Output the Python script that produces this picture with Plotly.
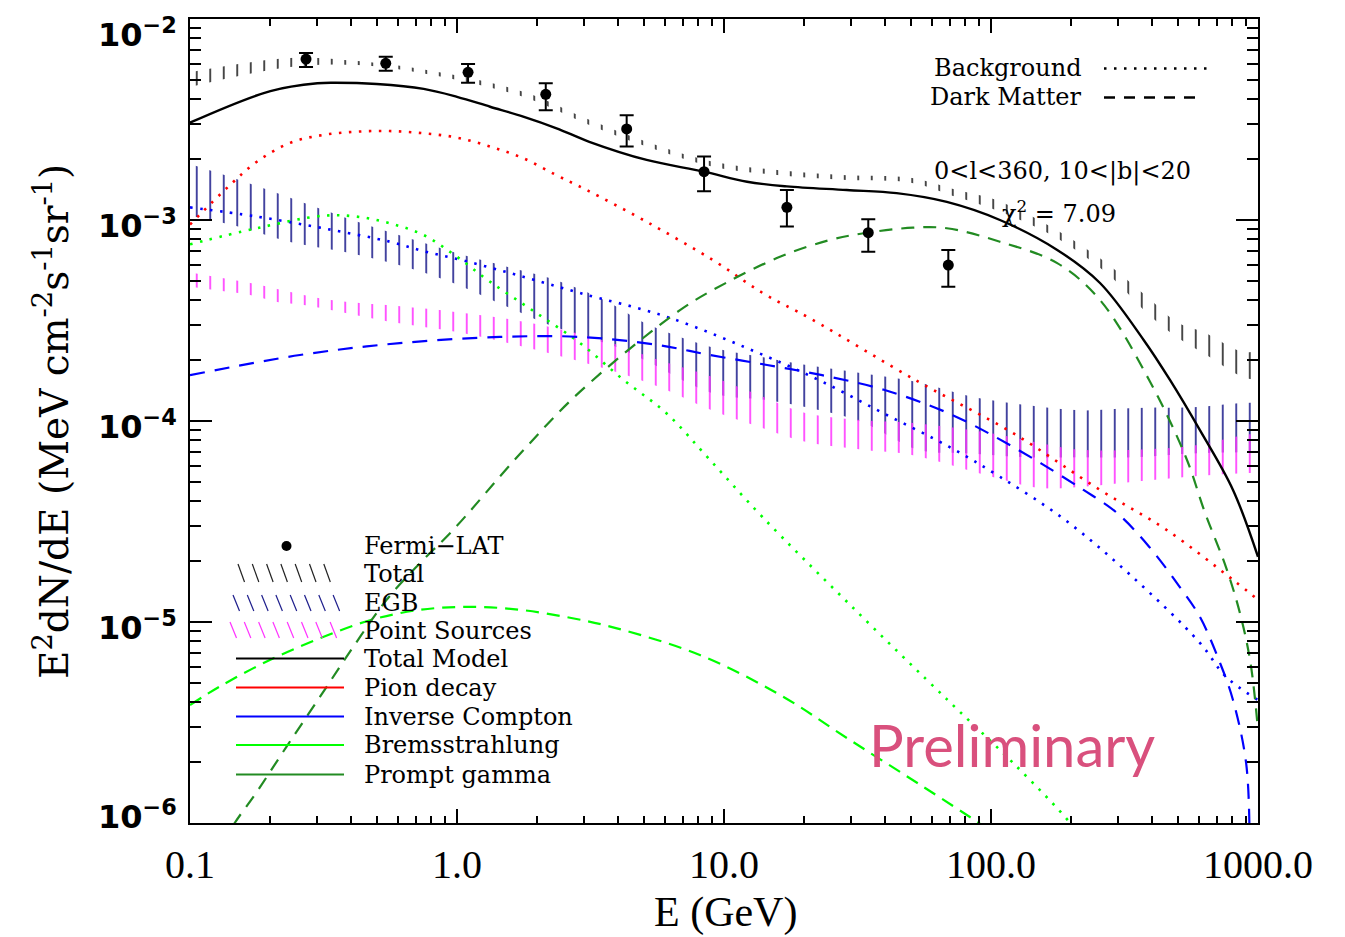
import math
import plotly.graph_objects as go

# ---------------- data (E in GeV, E^2 dN/dE in MeV cm^-2 s^-1 sr^-1) ----------------
fermi_E = [0.272, 0.541, 1.10, 2.15, 4.32, 8.42, 17.2, 34.7, 69.2]
fermi_flux = [6.32e-3, 6.02e-3, 5.43e-3, 4.22e-3, 2.84e-3, 1.74e-3, 1.156e-3, 8.65e-4, 5.97e-4]
fermi_hi = [6.77e-3, 6.49e-3, 5.97e-3, 4.79e-3, 3.32e-3, 2.07e-3, 1.41e-3, 1.01e-3, 7.1e-4]
fermi_lo = [5.77e-3, 5.53e-3, 4.82e-3, 3.52e-3, 2.32e-3, 1.39e-3, 9.27e-4, 6.95e-4, 4.66e-4]

total_band_E = [0.1, 0.237, 0.425, 0.77, 1.77, 3.13, 5.13, 9.1, 16.1, 28.8, 50.6, 74.5,
                104, 169, 271, 385, 496, 624, 883, 1000]
total_hi = [5.44e-3, 6.40e-3, 6.18e-3, 5.57e-3, 4.35e-3, 3.15e-3, 2.45e-3, 1.95e-3, 1.77e-3,
            1.67e-3, 1.62e-3, 1.41e-3, 1.26e-3, 9.2e-4, 6.1e-4, 4.14e-4, 3.11e-4, 2.77e-4,
            2.2e-4, 2.25e-4]
total_lo = [4.59e-3, 5.77e-3, 5.9e-3, 5.32e-3, 4.10e-3, 2.97e-3, 2.32e-3, 1.84e-3, 1.67e-3,
            1.58e-3, 1.53e-3, 1.30e-3, 1.12e-3, 8.4e-4, 5.45e-4, 3.44e-4, 2.62e-4, 2.18e-4,
            1.65e-4, 1.6e-4]

egb_E = [0.1, 0.149, 0.237, 0.38, 0.605, 0.967, 1.55, 2.22, 3.12, 3.98, 5.05, 9.0, 14.5,
         20.4, 32.8, 53.4, 85, 136, 215, 348, 562, 883, 1000]
egb_hi = [1.9e-3, 1.60e-3, 1.29e-3, 1.03e-3, 8.41e-4, 6.93e-4, 5.84e-4, 5.14e-4, 4.33e-4,
          3.69e-4, 3.07e-4, 2.33e-4, 2.06e-4, 1.90e-4, 1.73e-4, 1.56e-4, 1.32e-4, 1.20e-4,
          1.13e-4, 1.16e-4, 1.17e-4, 1.23e-4, 1.23e-4]
egb_lo = [1.05e-3, 9.33e-4, 7.78e-4, 6.93e-4, 5.97e-4, 4.86e-4, 3.69e-4, 3.0e-4, 2.59e-4,
          2.33e-4, 2.01e-4, 1.38e-4, 1.27e-4, 1.17e-4, 9.9e-5, 7.2e-5, 6.9e-5, 6.6e-5,
          6.6e-5, 6.6e-5, 6.9e-5, 7.0e-5, 7.0e-5]

ps_E = [0.1, 0.132, 0.168, 0.212, 0.267, 0.337, 0.6, 1.0, 1.8, 3.5, 5.7, 9.0, 14, 20, 33,
        50, 100, 150, 215, 350, 560, 880, 1000]
ps_hi = [5.5e-4, 5.14e-4, 4.86e-4, 4.54e-4, 4.24e-4, 4.0e-4, 3.73e-4, 3.48e-4, 3.11e-4,
         2.53e-4, 2.01e-4, 1.66e-4, 1.32e-4, 1.10e-4, 1.01e-4, 9.8e-5, 8.7e-5, 7.8e-5,
         7.2e-5, 7.2e-5, 7.5e-5, 8.5e-5, 8.7e-5]
ps_lo = [4.65e-4, 4.43e-4, 4.24e-4, 3.91e-4, 3.78e-4, 3.57e-4, 3.07e-4, 2.77e-4, 2.33e-4,
         1.84e-4, 1.48e-4, 1.13e-4, 9.2e-5, 7.9e-5, 7.2e-5, 6.8e-5, 5.3e-5, 4.65e-5,
         4.7e-5, 5.0e-5, 5.3e-5, 5.5e-5, 5.5e-5]

total_model_E = [0.1, 0.2, 0.3, 0.35, 0.5, 0.75, 1.0, 1.33, 1.77, 2.36, 3.13, 5.13, 8.42,
                 12.2, 17.2, 28.8, 44.3, 68.3, 108, 177, 256, 373, 468, 606, 806, 1000]
total_model = [3.05e-3, 4.38e-3, 4.79e-3, 4.82e-3, 4.75e-3, 4.49e-3, 4.10e-3, 3.66e-3,
               3.27e-3, 2.86e-3, 2.45e-3, 1.99e-3, 1.74e-3, 1.55e-3, 1.47e-3, 1.41e-3,
               1.36e-3, 1.23e-3, 1.0e-3, 7.1e-4, 4.86e-4, 2.53e-4, 1.60e-4, 9.0e-5,
               4.54e-5, 2.11e-5]

pion_E = [0.1, 0.141, 0.178, 0.237, 0.315, 0.42, 0.56, 0.75, 1.0, 1.33, 1.77, 2.36, 3.06,
          5.13, 9.12, 14.1, 21.0, 53.4, 121, 256, 455, 806, 1000]
pion = [9.5e-4, 1.49e-3, 1.95e-3, 2.42e-3, 2.65e-3, 2.75e-3, 2.77e-3, 2.70e-3, 2.57e-3,
        2.32e-3, 2.03e-3, 1.67e-3, 1.41e-3, 9.8e-4, 6.3e-4, 4.3e-4, 3.24e-4, 1.57e-4,
        8.7e-5, 4.54e-5, 2.87e-5, 1.62e-5, 1.29e-5]

ic_bg_E = [0.1, 0.178, 0.315, 0.56, 0.75, 1.0, 1.33, 1.77, 2.89, 6.1, 14.5, 23.3, 39.7,
           69.6, 108, 190, 338, 606, 758, 1000]
ic_bg = [1.156e-3, 1.04e-3, 9.1e-4, 7.8e-4, 7.0e-4, 6.4e-4, 5.8e-4, 5.22e-4, 4.33e-4,
         3.3e-4, 2.09e-4, 1.57e-4, 1.09e-4, 7.45e-5, 5.28e-5, 3.21e-5, 1.68e-5, 7.87e-6,
         5.35e-6, 4.09e-6]

ic_dm_E = [0.1, 0.258, 0.61, 1.45, 2.89, 5.64, 8.86, 14.5, 23.3, 39.7, 69.6, 121, 222, 297,
           391, 508, 606, 722, 806, 903, 930]
ic_dm = [1.69e-4, 2.13e-4, 2.44e-4, 2.62e-4, 2.62e-4, 2.39e-4, 2.13e-4, 1.90e-4, 1.69e-4,
         1.43e-4, 1.09e-4, 7.43e-5, 4.54e-5, 3.48e-5, 2.37e-5, 1.50e-5, 1.06e-5, 6.22e-6,
         4.09e-6, 1.98e-6, 8.0e-7]

brems_bg_E = [0.1, 0.178, 0.315, 0.42, 0.56, 0.75, 1.0, 1.33, 1.95, 2.89, 4.21, 6.1, 8.86,
              13.9, 29.6, 70, 121, 198, 215]
brems_bg = [7.57e-4, 9.1e-4, 1.05e-3, 1.04e-3, 9.63e-4, 8.42e-4, 6.56e-4, 4.93e-4, 3.5e-4,
            2.44e-4, 1.6e-4, 1.09e-4, 6.4e-5, 3.34e-5, 1.22e-5, 4.0e-6, 1.99e-6, 1.0e-6,
            8.5e-7]

brems_dm_E = [0.1, 0.129, 0.199, 0.307, 0.472, 0.727, 1.12, 1.72, 2.65, 3.97, 8.12, 16.2,
              29.6, 55.5, 91, 100]
brems_dm = [3.86e-6, 4.77e-6, 6.47e-6, 8.3e-6, 1.02e-5, 1.15e-5, 1.19e-5, 1.15e-5, 1.05e-5,
            9.3e-6, 6.85e-6, 4.34e-6, 2.59e-6, 1.52e-6, 9.9e-7, 9.0e-7]

prompt_E = [0.132, 0.147, 0.178, 0.23, 0.307, 0.409, 0.545, 0.726, 0.967, 1.72, 2.89, 6.84,
            10.1, 16.2, 24.8, 33.4, 51, 68.3, 108, 177, 256, 391, 536, 634, 758, 857, 938,
            1000]
prompt = [7.9e-7, 1.0e-6, 1.43e-6, 2.40e-6, 4.25e-6, 7.53e-6, 1.29e-5, 1.96e-5, 2.87e-5,
          6.85e-5, 1.40e-4, 3.56e-4, 4.84e-4, 6.56e-4, 7.94e-4, 8.59e-4, 9.16e-4, 9.1e-4,
          7.8e-4, 6.1e-4, 4.0e-4, 1.6e-4, 6.64e-5, 3.48e-5, 1.88e-5, 1.10e-5, 6.22e-6,
          2.9e-6]

x_tick_vals = [0.1, 1, 10, 100, 1000]
x_tick_text = ["0.1", "1.0", "10.0", "100.0", "1000.0"]
y_tick_vals = [1e-6, 1e-5, 1e-4, 1e-3, 1e-2]
y_tick_text = ["<b>10<sup>−6</sup></b>", "<b>10<sup>−5</sup></b>", "<b>10<sup>−4</sup></b>",
               "<b>10<sup>−3</sup></b>", "<b>10<sup>−2</sup></b>"]

legend_labels = ["Fermi−LAT", "Total", "EGB", "Point Sources", "Total Model", "Pion decay",
                 "Inverse Compton", "Bremsstrahlung", "Prompt gamma"]

# ---------------- page geometry ----------------
W, H = 1345, 937
PL, PR, PT, PB = 190, 1258, 19, 823


def xp(px):
    return (px - PL) / (PR - PL)


def yp(py):
    return (PB - py) / (PB - PT)


SERIF = "DejaVu Serif"
LEG_SIZE = 24
DOT = "2.5px,7.5px"

fig = go.Figure()


def band(E, lo, hi, color, name):
    fig.add_trace(go.Scatter(x=E, y=lo, mode="lines", line=dict(width=0, color="rgba(0,0,0,0)",
                                                                 shape="spline"),
                             hoverinfo="skip", showlegend=False, name=name + " low"))
    fig.add_trace(go.Scatter(x=E, y=hi, mode="lines", fill="tonexty",
                             line=dict(width=0, color="rgba(0,0,0,0)", shape="spline"),
                             fillcolor="rgba(0,0,0,0)",
                             fillpattern=dict(shape="|", size=13.5, solidity=0.12,
                                              fgcolor=color, fgopacity=1,
                                              bgcolor="rgba(0,0,0,0)", fillmode="replace"),
                             hoverinfo="skip", showlegend=False, name=name))


band(total_band_E, total_lo, total_hi, "#222222", "Total")
band(egb_E, egb_lo, egb_hi, "#1e1e8c", "EGB")
band(ps_E, ps_lo, ps_hi, "#ff33ff", "Point Sources")


def curve(E, v, color, dash, width=2.2, name=""):
    fig.add_trace(go.Scatter(x=E, y=v, mode="lines", name=name, showlegend=False,
                             line=dict(color=color, width=width, dash=dash, shape="spline",
                                       smoothing=1.0)))


curve(pion_E, pion, "#ff0000", DOT, 2.6, "Pion decay")
curve(ic_bg_E, ic_bg, "#0000ff", DOT, 2.6, "Inverse Compton")
curve(brems_bg_E, brems_bg, "#00ff00", DOT, 2.6, "Bremsstrahlung")
curve(ic_dm_E, ic_dm, "#0000ff", "15px,10px", 2.2, "Inverse Compton (DM)")
curve(brems_dm_E, brems_dm, "#00ff00", "13px,8px", 2.2, "Bremsstrahlung (DM)")
curve(prompt_E, prompt, "#228b22", "13px,9px", 2.2, "Prompt gamma")
curve(total_model_E, total_model, "#000000", "solid", 2.4, "Total Model")

fig.add_trace(go.Scatter(
    x=fermi_E, y=fermi_flux, mode="markers", name="Fermi-LAT", showlegend=False,
    marker=dict(color="black", size=11),
    error_y=dict(type="data", symmetric=False,
                 array=[h - f for h, f in zip(fermi_hi, fermi_flux)],
                 arrayminus=[f - l for f, l in zip(fermi_flux, fermi_lo)],
                 color="black", thickness=2, width=7)))

# ---------------- hand-drawn legend ----------------
shapes = []
annotations = []
row_y = [546, 573.5, 602.5, 630.5, 658.5, 687.5, 716.5, 745, 774.5]
LEG_TEXT_X = 362
for lab, ry in zip(legend_labels, row_y):
    annotations.append(dict(x=xp(LEG_TEXT_X), y=yp(ry), xref="paper", yref="paper",
                            text=lab, showarrow=False, xanchor="left", yanchor="middle",
                            font=dict(family=SERIF, size=LEG_SIZE, color="black")))

# Fermi-LAT marker
shapes.append(dict(type="circle", xref="paper", yref="paper",
                   x0=xp(281.5), x1=xp(291.5), y0=yp(551), y1=yp(541),
                   fillcolor="black", line=dict(color="black", width=0)))
# hatch swatches
for color, y0, y1, x_start, n in [("#222222", 564, 582, 238, 7),
                                  ("#1e1e8c", 595, 611, 233, 8),
                                  ("#ff33ff", 622, 638, 230, 8)]:
    for k in range(n):
        xa = x_start + 14.3 * k
        shapes.append(dict(type="line", xref="paper", yref="paper",
                           x0=xp(xa), y0=yp(y0), x1=xp(xa + 6.5), y1=yp(y1),
                           line=dict(color=color, width=1.2)))
# line swatches
for color, ry in [("#000000", 658.5), ("#ff0000", 687.5), ("#0000ff", 716.5),
                  ("#00ff00", 745), ("#228b22", 774.5)]:
    shapes.append(dict(type="line", xref="paper", yref="paper",
                       x0=xp(236), x1=xp(344), y0=yp(ry), y1=yp(ry),
                       line=dict(color=color, width=2.2)))

# line-style key (top right)
annotations.append(dict(x=xp(1084), y=yp(68.5), xref="paper", yref="paper", text="Background",
                        showarrow=False, xanchor="right", yanchor="middle",
                        font=dict(family=SERIF, size=LEG_SIZE, color="black")))
annotations.append(dict(x=xp(1084), y=yp(97.5), xref="paper", yref="paper",
                        text="Dark Matter", showarrow=False, xanchor="right",
                        yanchor="middle", font=dict(family=SERIF, size=LEG_SIZE, color="black")))
shapes.append(dict(type="line", xref="paper", yref="paper", x0=xp(1104), x1=xp(1213),
                   y0=yp(68.5), y1=yp(68.5), line=dict(color="black", width=2.4, dash=DOT)))
shapes.append(dict(type="line", xref="paper", yref="paper", x0=xp(1104), x1=xp(1202),
                   y0=yp(97.5), y1=yp(97.5),
                   line=dict(color="black", width=2.6, dash="11px,9px")))

# region and fit quality
annotations.append(dict(x=xp(932), y=yp(171.5), xref="paper", yref="paper",
                        text="0&lt;l&lt;360, 10&lt;|b|&lt;20", showarrow=False,
                        xanchor="left", yanchor="middle",
                        font=dict(family=SERIF, size=LEG_SIZE, color="black")))
annotations.append(dict(x=xp(1000), y=yp(211.5), xref="paper", yref="paper",
                        text="χ<sup>2</sup> = 7.09", showarrow=False, xanchor="left",
                        yanchor="middle", font=dict(family=SERIF, size=LEG_SIZE, color="black")))

annotations.append(dict(x=xp(1012), y=yp(744), xref="paper", yref="paper",
                        text="Preliminary", showarrow=False, xanchor="center",
                        yanchor="middle", font=dict(family="Lato", size=58, color="#d9507d")))

# y tick labels, kept inside the page at the ends of the axis
for val, txt in zip(y_tick_vals, y_tick_text):
    lv = math.log10(val)
    if lv >= -2:
        shift = -14
    elif lv <= -6:
        shift = 8
    else:
        shift = -4
    annotations.append(dict(x=xp(179), y=lv, xref="paper", yref="y", text=txt,
                            showarrow=False, xanchor="right", yanchor="middle", yshift=shift,
                            font=dict(family="DejaVu Sans", size=32, color="black")))

# axis titles
annotations.append(dict(x=xp(52), y=yp(422), xref="paper", yref="paper",
                        text="E<sup>2</sup>dN/dE (MeV cm<sup>-2</sup>s<sup>-1</sup>sr<sup>-1</sup>)",
                        showarrow=False, textangle=-90, xanchor="center", yanchor="middle",
                        font=dict(family=SERIF, size=39, color="black")))
annotations.append(dict(x=xp(725), y=yp(912), xref="paper", yref="paper", text="E (GeV)",
                        showarrow=False, xanchor="center", yanchor="middle",
                        font=dict(family="Liberation Serif", size=42, color="black")))

axis_common = dict(type="log", showgrid=False, zeroline=False, showline=True, linewidth=2,
                   linecolor="black", mirror="allticks", ticks="inside", tickwidth=2,
                   tickcolor="black", tickmode="array", automargin=False)

fig.update_layout(
    width=W, height=H,
    margin=dict(l=PL, r=W - PR, t=PT, b=H - PB, pad=0, autoexpand=False),
    paper_bgcolor="white", plot_bgcolor="white",
    showlegend=False,
    xaxis=dict(**axis_common, range=[-1, 3], tickvals=x_tick_vals, ticktext=x_tick_text,
               ticklen=14, ticklabelstandoff=5, ticklabeloverflow="allow",
               tickfont=dict(family="Liberation Serif", size=40, color="black"),
               minor=dict(ticks="inside", ticklen=7, tickwidth=2, tickcolor="black",
                          dtick="D1", showgrid=False)),
    yaxis=dict(**axis_common, range=[-6, -2], tickvals=y_tick_vals, showticklabels=False,
               ticklen=22,
               minor=dict(ticks="inside", ticklen=11, tickwidth=2, tickcolor="black",
                          dtick="D1", showgrid=False)),
    shapes=shapes,
    annotations=annotations,
)

fig.write_html("out.html")
